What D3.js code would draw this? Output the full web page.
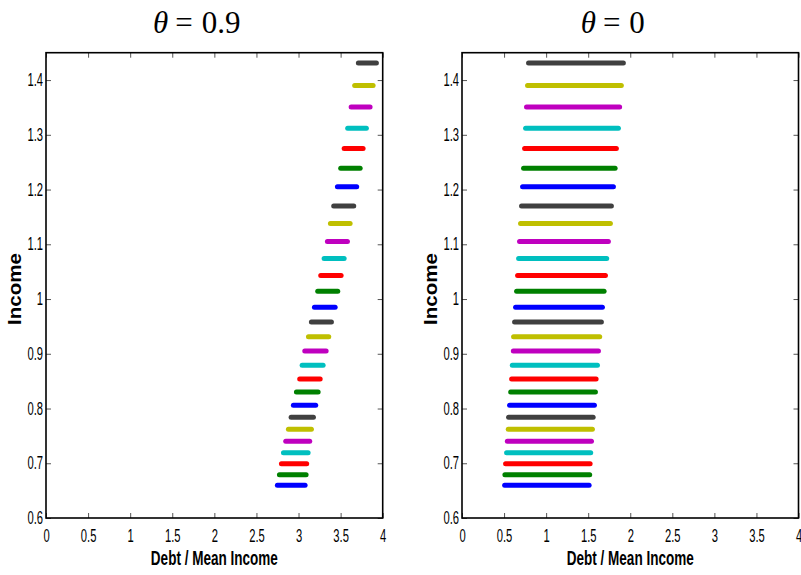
<!DOCTYPE html>
<html>
<head>
<meta charset="utf-8">
<script src="https://cdn.jsdelivr.net/npm/d3@7"></script>
<style>
    body { margin: 0; background: #fff; }
    svg { display: block; }
</style>
</head>
<body>
<div id="chart"></div>
<script>
// income grid (ascending), one horizontal bar per level
const incomeLevels = [0.660, 0.679, 0.699, 0.719, 0.740, 0.762, 0.784, 0.806, 0.830, 0.854,
                      0.879, 0.905, 0.931, 0.958, 0.985, 1.014, 1.043, 1.074, 1.105, 1.138,
                      1.170, 1.205, 1.239, 1.275, 1.312, 1.351, 1.390, 1.431];

// theta = 0.9
const debtStartHigh = [2.749, 2.773, 2.797, 2.821, 2.848, 2.880, 2.912, 2.939, 2.975, 3.014,
                       3.043, 3.074, 3.118, 3.153, 3.189, 3.228, 3.264, 3.304, 3.343, 3.379,
                       3.418, 3.462, 3.501, 3.542, 3.584, 3.625, 3.667, 3.711];
const debtEndHigh = [3.078, 3.090, 3.097, 3.114, 3.133, 3.153, 3.177, 3.204, 3.233, 3.257,
                     3.292, 3.328, 3.359, 3.391, 3.435, 3.466, 3.506, 3.542, 3.581, 3.613,
                     3.656, 3.691, 3.732, 3.767, 3.806, 3.850, 3.886, 3.925];

// theta = 0
const debtStartZero = [0.507, 0.510, 0.518, 0.530, 0.539, 0.550, 0.554, 0.566, 0.578, 0.590,
                       0.598, 0.610, 0.613, 0.625, 0.637, 0.649, 0.661, 0.673, 0.684, 0.696,
                       0.708, 0.720, 0.732, 0.744, 0.756, 0.767, 0.779, 0.791];
const debtEndZero = [1.511, 1.518, 1.523, 1.530, 1.539, 1.550, 1.559, 1.574, 1.586, 1.594,
                     1.610, 1.622, 1.637, 1.657, 1.669, 1.689, 1.705, 1.720, 1.740, 1.764,
                     1.776, 1.800, 1.820, 1.835, 1.859, 1.874, 1.894, 1.918];

const xTicks = [0, 0.5, 1, 1.5, 2, 2.5, 3, 3.5, 4];
const yTicks = [0.6, 0.7, 0.8, 0.9, 1, 1.1, 1.2, 1.3, 1.4];
const lineColors = ["#0000ff", "#008000", "#ff0000", "#00bfbf", "#bf00bf", "#bfbf00", "#404040"];

const width = 801, height = 575;
const plotTop = 52.7, plotBottom = 518;
const squeeze = 0.64; // tick labels are horizontally narrow

const svg = d3.select("#chart")
              .append("svg")
              .attr("width", width)
              .attr("height", height);

const y = d3.scaleLinear()
            .domain([0.6, 1.45])
            .range([plotBottom, plotTop]);

const fmt = d3.format("~g");

function drawPanel(left, right, thetaText, starts, ends) {
    const x = d3.scaleLinear()
                .domain([0, 4])
                .range([left, right]);

    const g = svg.append("g");

    // bars
    g.selectAll("line.bar")
     .data(incomeLevels)
     .enter()
     .append("line")
     .attr("class", "bar")
     .attr("x1", function (d, i) { return x(starts[i]); })
     .attr("x2", function (d, i) { return x(ends[i]); })
     .attr("y1", function (d) { return y(d); })
     .attr("y2", function (d) { return y(d); })
     .attr("stroke", function (d, i) { return lineColors[i % lineColors.length]; })
     .attr("stroke-width", 5)
     .attr("stroke-linecap", "round");

    // bottom axis with labels
    const bottom = g.append("g")
                    .attr("transform", "translate(0," + plotBottom + ")")
                    .call(d3.axisBottom(x).tickValues(xTicks).tickFormat(fmt)
                            .tickSize(-5).tickSizeOuter(0).tickPadding(12));
    bottom.selectAll("text")
          .attr("transform", "scale(" + squeeze + ",1)");

    // left axis with labels
    const leftAx = g.append("g")
                    .attr("transform", "translate(" + left + ",0)")
                    .call(d3.axisLeft(y).tickValues(yTicks).tickFormat(fmt)
                            .tickSize(-5).tickSizeOuter(0).tickPadding(3));
    leftAx.selectAll("text")
          .attr("transform", "scale(" + squeeze + ",1)")
          .attr("x", -3 / squeeze);

    // top and right ticks only
    g.append("g")
     .attr("transform", "translate(0," + plotTop + ")")
     .call(d3.axisTop(x).tickValues(xTicks).tickFormat("").tickSize(-5).tickSizeOuter(0));
    g.append("g")
     .attr("transform", "translate(" + right + ",0)")
     .call(d3.axisRight(y).tickValues(yTicks).tickFormat("").tickSize(-5).tickSizeOuter(0));

    g.selectAll(".domain").remove();
    g.selectAll(".tick line").attr("stroke", "#555").attr("stroke-width", 1);
    g.selectAll(".tick text")
     .attr("font-family", "Liberation Sans, Arial, sans-serif")
     .attr("font-size", 17.5)
     .attr("fill", "#000");

    // box
    g.append("rect")
     .attr("x", left)
     .attr("y", plotTop)
     .attr("width", right - left)
     .attr("height", plotBottom - plotTop)
     .attr("fill", "none")
     .attr("stroke", "#000")
     .attr("stroke-width", 1.6);

    // x label
    g.append("text")
     .attr("x", (left + right) / 2)
     .attr("y", 565)
     .attr("text-anchor", "middle")
     .attr("font-family", "Liberation Sans, Arial, sans-serif")
     .attr("font-weight", "bold")
     .attr("font-size", 21)
     .attr("textLength", 127)
     .attr("lengthAdjust", "spacingAndGlyphs")
     .text("Debt / Mean Income");

    // y label
    g.append("text")
     .attr("transform", "translate(" + (left - 25) + ",289)rotate(-90)")
     .attr("text-anchor", "middle")
     .attr("font-family", "Liberation Sans, Arial, sans-serif")
     .attr("font-weight", "bold")
     .attr("font-size", 19)
     .attr("textLength", 72)
     .attr("lengthAdjust", "spacingAndGlyphs")
     .text("Income");

    // title
    const t = g.append("text")
               .attr("x", (left + right) / 2 - 17.5)
               .attr("y", 33)
               .attr("text-anchor", "middle")
               .attr("font-family", "Liberation Serif, Times New Roman, serif")
               .attr("font-size", 31);
    t.append("tspan").attr("font-style", "italic").text("θ");
    t.append("tspan").attr("dx", 7).text("=");
    t.append("tspan").attr("dx", 9).text(thetaText);
}

drawPanel(46, 382.7, "0.9", debtStartHigh, debtEndHigh);
drawPanel(462, 798.5, "0", debtStartZero, debtEndZero);
</script>
</body>
</html>
